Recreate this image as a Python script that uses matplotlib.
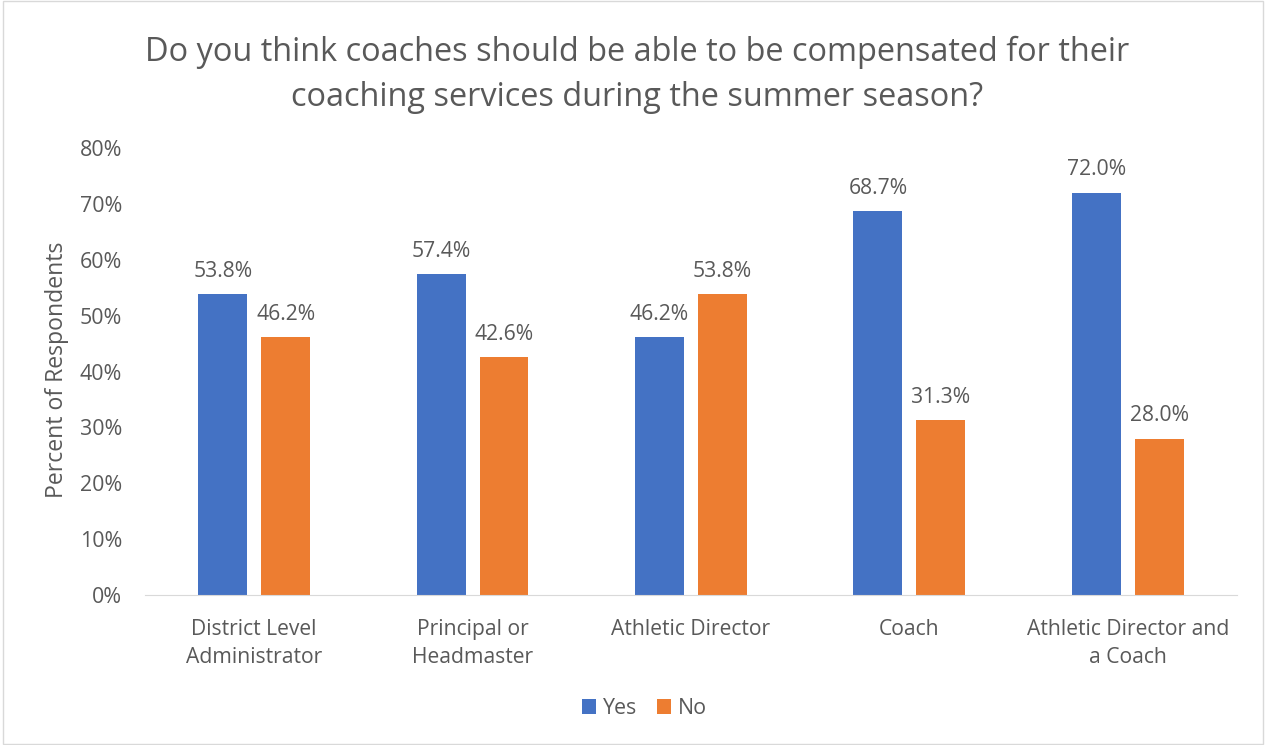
import matplotlib
matplotlib.use("Agg")
import matplotlib.pyplot as plt
import numpy as np
from matplotlib.patches import Rectangle

categories = ["District Level\nAdministrator", "Principal or\nHeadmaster", "Athletic Director",
              "Coach", "Athletic Director and\na Coach"]
yes_vals = [53.8, 57.4, 46.2, 68.7, 72.0]
no_vals = [46.2, 42.6, 53.8, 31.3, 28.0]
series_names = ["Yes", "No"]
colors = ["#4472C4", "#ED7D31"]
title = "Do you think coaches should be able to be compensated for their\ncoaching services during the summer season?"
ylabel = "Percent of Respondents"

txt = "#595959"
plt.rcParams['font.family'] = ['Open Sans', 'DejaVu Sans']

fig = plt.figure(figsize=(12.66, 7.45), dpi=100)
fig.patches.append(Rectangle((0.002, 0.002), 0.996, 0.996, transform=fig.transFigure,
                             fill=False, edgecolor="#D9D9D9", linewidth=1))
ax = fig.add_axes([0.1145, 0.2013, 0.8625, 0.6])

x = np.arange(len(categories))
w = 0.224
off = 0.144
b1 = ax.bar(x - off, yes_vals, w, color=colors[0], label=series_names[0])
b2 = ax.bar(x + off, no_vals, w, color=colors[1], label=series_names[1])
for bars, vals in ((b1, yes_vals), (b2, no_vals)):
    for b, v in zip(bars, vals):
        ax.text(b.get_x() + b.get_width() / 2, v + 2.2, f"{v:.1f}%", ha="center", va="bottom",
                fontsize=15.2, color=txt)

ax.set_xlim(-0.5, len(categories) - 0.5)
ax.set_ylim(0, 80)
ax.set_yticks(np.arange(0, 81, 10))
ax.set_yticklabels([f"{t}%" for t in range(0, 81, 10)], fontsize=15.4, color=txt)
ax.set_xticks(x)
ax.set_xticklabels(categories, fontsize=15.2, color=txt, linespacing=1.45)
ax.tick_params(axis="both", length=0)
ax.tick_params(axis="y", pad=16.5)
ax.tick_params(axis="x", pad=17)
for s in ["top", "right", "left"]:
    ax.spines[s].set_visible(False)
ax.spines["bottom"].set_color("#D9D9D9")
fig.text(57 / 1266, 0.503, ylabel, rotation=90, ha="center", va="center", fontsize=16.6, color=txt)

fig.text(0.503, 0.8995, title, ha="center", va="center", fontsize=23.4, color=txt, linespacing=1.45)

fig.legend(handles=[b1, b2], labels=series_names, loc="center", bbox_to_anchor=(0.509, 0.049),
           ncol=2, frameon=False, fontsize=15.4, handlelength=0.65, handleheight=0.65,
           handletextpad=0.35, columnspacing=0.9, labelcolor=txt)

fig.savefig("out.png", dpi=100)
